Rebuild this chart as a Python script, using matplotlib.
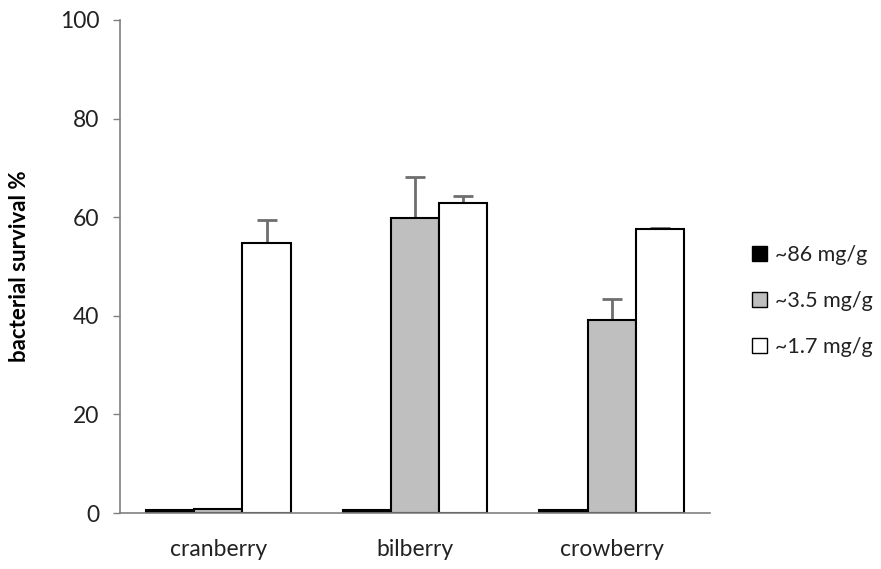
import matplotlib
matplotlib.use("Agg")
import matplotlib.pyplot as plt
import numpy as np
from matplotlib.patches import Patch

categories = ["cranberry", "bilberry", "crowberry"]
series_labels = ["~86 mg/g", "~3.5 mg/g", "~1.7 mg/g"]
high = [0.6, 0.6, 0.6]
mid = [0.9, 59.8, 39.1]
low = [54.8, 62.9, 57.6]
mid_err = [0.0, 8.4, 4.3]
low_err = [4.6, 1.4, 0.2]
yticks = [0, 20, 40, 60, 80, 100]

plt.rcParams['font.family'] = ['Lato', 'DejaVu Sans']

fig = plt.figure(figsize=(8.81, 5.69), dpi=100)
ax = fig.add_axes([120/881, 1-513/569, 590/881, 493/569])

x = np.arange(len(categories))
w = 0.245
colors = ["black", "#bfbfbf", "white"]
vals = [high, mid, low]
errs = [None, mid_err, low_err]
for i, (v, c, e) in enumerate(zip(vals, colors, errs)):
    pos = x + (i - 1) * w
    ax.bar(pos, v, width=w, color=c, edgecolor="black", linewidth=1.5, zorder=2)
    if e is not None:
        ax.errorbar(pos, v, yerr=[np.zeros(len(e)), e], fmt="none",
                    ecolor="#6e6e6e", elinewidth=2, capsize=7, capthick=2, zorder=1)

ax.set_xlim(-0.5, 2.5)
ax.set_ylim(0, 100)
ax.set_yticks(yticks)
ax.set_xticks(x)
ax.set_xticklabels(categories)
ax.tick_params(axis="x", length=0, pad=19, labelsize=16.5, labelcolor="#222222")
ax.tick_params(axis="y", length=5, width=1, color="#808080", labelsize=16.5, pad=10,
               labelcolor="#222222")
for s in ["top", "right"]:
    ax.spines[s].set_visible(False)
for s in ["left", "bottom"]:
    ax.spines[s].set_color("#808080")
    ax.spines[s].set_linewidth(1.2)
ax.set_ylabel("bacterial survival %", fontsize=16, fontweight="bold")
ax.yaxis.set_label_coords(-0.152, 0.5)

handles = [Patch(facecolor=c, edgecolor="black", linewidth=1) for c in colors]
fig.legend(handles, series_labels, loc="center left", bbox_to_anchor=(733/881, 1-301/569),
           frameon=False, fontsize=15.5, handlelength=0.7, handleheight=0.7,
           handletextpad=0.35, labelspacing=1.2, labelcolor="#222222")

fig.savefig("out.png", dpi=100)
